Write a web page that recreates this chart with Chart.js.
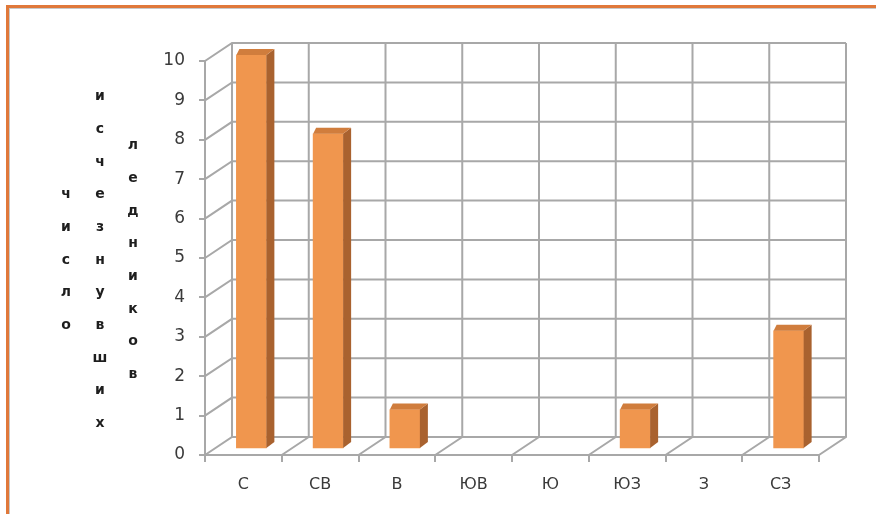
<!DOCTYPE html>
<html>
<head>
<meta charset="utf-8">
<script src="https://cdn.jsdelivr.net/npm/chart.js@4"></script>
<style>
  body { margin: 0; background: #fff; }
  #wrap { position: relative; width: 876px; height: 514px; overflow: hidden; }
  #frame { position: absolute; left: 6px; top: 5px; right: -10px; bottom: -10px;
           border-top: 3px solid #E0783A; border-left: 3px solid #E0783A; }
  #frame-in { position: absolute; left: 9px; top: 8px; right: -10px; bottom: -10px;
              border-top: 1px solid #C8C8C8; border-left: 1px solid #C8C8C8; }
  canvas { position: absolute; left: 0; top: 0; }
</style>
</head>
<body>
<div id="wrap">
  <div id="frame"></div>
  <div id="frame-in"></div>
  <canvas id="glaciers" width="876" height="514"></canvas>
</div>
<script>
const directions = ["С", "СВ", "В", "ЮВ", "Ю", "ЮЗ", "З", "СЗ"];
const lostGlaciers = [10, 8, 1, 0, 0, 1, 0, 3];
const titleWords = ["число", "исчезнувших", "ледников"];

const gridColor = "#A8A8A8";
// depth of the box: back wall sits up and right of the front axes
const wallDx = 27, wallDy = -18;
// bars stand a little behind the front axes
const barDx = 8, barDy = -6;

const boxPlugin = {
  id: "box3d",
  beforeDatasetsDraw(chart) {
    const ctx = chart.ctx;
    const y = chart.scales.y;
    const area = chart.chartArea;
    const step = (area.right - area.left) / directions.length;
    const y0 = y.getPixelForValue(0), yTop = y.getPixelForValue(10);
    ctx.save();
    ctx.strokeStyle = gridColor;
    ctx.lineWidth = 2;
    ctx.beginPath();
    // back wall horizontals + left wall slants
    for (let v = 0; v <= 10; v++) {
      const py = y.getPixelForValue(v);
      ctx.moveTo(area.left, py);
      ctx.lineTo(area.left + wallDx, py + wallDy);
      ctx.lineTo(area.right + wallDx, py + wallDy);
    }
    // back wall verticals + floor slants
    for (let i = 0; i <= directions.length; i++) {
      const px = area.left + i * step;
      ctx.moveTo(px, y0);
      ctx.lineTo(px + wallDx, y0 + wallDy);
      ctx.lineTo(px + wallDx, yTop + wallDy);
    }
    ctx.stroke();
    ctx.restore();

    ctx.save();
    ctx.translate(barDx, barDy);
  },
  afterDatasetsDraw(chart) {
    const ctx = chart.ctx;
    const meta = chart.getDatasetMeta(0);
    meta.data.forEach((bar, i) => {
      if (!lostGlaciers[i]) return;
      const l = bar.x - bar.width / 2, r = bar.x + bar.width / 2;
      const t = bar.y, b = bar.base;
      // side face
      ctx.fillStyle = "#A9622F";
      ctx.beginPath();
      ctx.moveTo(r, t);
      ctx.lineTo(r + 8, t - 6);
      ctx.lineTo(r + 8, b - 6);
      ctx.lineTo(r, b);
      ctx.closePath();
      ctx.fill();
      // top face
      ctx.fillStyle = "#D07D3D";
      ctx.beginPath();
      ctx.moveTo(l, t);
      ctx.lineTo(l + 3, t - 6);
      ctx.lineTo(r + 8, t - 6);
      ctx.lineTo(r, t);
      ctx.closePath();
      ctx.fill();
    });
    ctx.restore();
  },
  afterDraw(chart) {
    // axis title: each word written top-to-bottom in its own column
    const ctx = chart.ctx;
    const cols = [66, 100, 133];
    const gap = 32.7, mid = 260;
    ctx.save();
    ctx.font = "bold 14px 'DejaVu Sans'";
    ctx.fillStyle = "#1E1E1E";
    ctx.textAlign = "center";
    ctx.textBaseline = "middle";
    titleWords.forEach((w, c) => {
      const letters = Array.from(w);
      const start = mid - (letters.length - 1) * gap / 2;
      letters.forEach((ch, k) => ctx.fillText(ch, cols[c], start + k * gap));
    });
    ctx.restore();
  }
};

new Chart("glaciers", {
  type: "bar",
  data: {
    labels: directions,
    datasets: [{
      data: lostGlaciers,
      backgroundColor: (c) => (c.raw ? "#F0964E" : "rgba(0,0,0,0)"),
      borderWidth: 0,
      barThickness: 30,
      clip: false
    }]
  },
  options: {
    responsive: false,
    devicePixelRatio: 1,
    animation: false,
    layout: { padding: { top: 61, right: 57, left: 0, bottom: 0 } },
    plugins: { legend: { display: false }, tooltip: { enabled: false } },
    scales: {
      y: {
        min: 0,
        max: 10,
        ticks: { stepSize: 1, color: "#3A3A3A", padding: 14, font: { family: "DejaVu Sans", size: 17 } },
        grid: { drawOnChartArea: false, tickLength: 6, color: gridColor, lineWidth: 2 },
        border: { color: gridColor, width: 2 },
        afterFit(s) { s.width = 205; }
      },
      x: {
        ticks: { color: "#3A3A3A", padding: 13, font: { family: "DejaVu Sans", size: 16 } },
        grid: { drawOnChartArea: false, offset: true, tickLength: 7, color: gridColor, lineWidth: 2 },
        border: { color: gridColor, width: 2 },
        afterFit(s) { s.height = 59; }
      }
    }
  },
  plugins: [boxPlugin]
});
</script>
</body>
</html>
